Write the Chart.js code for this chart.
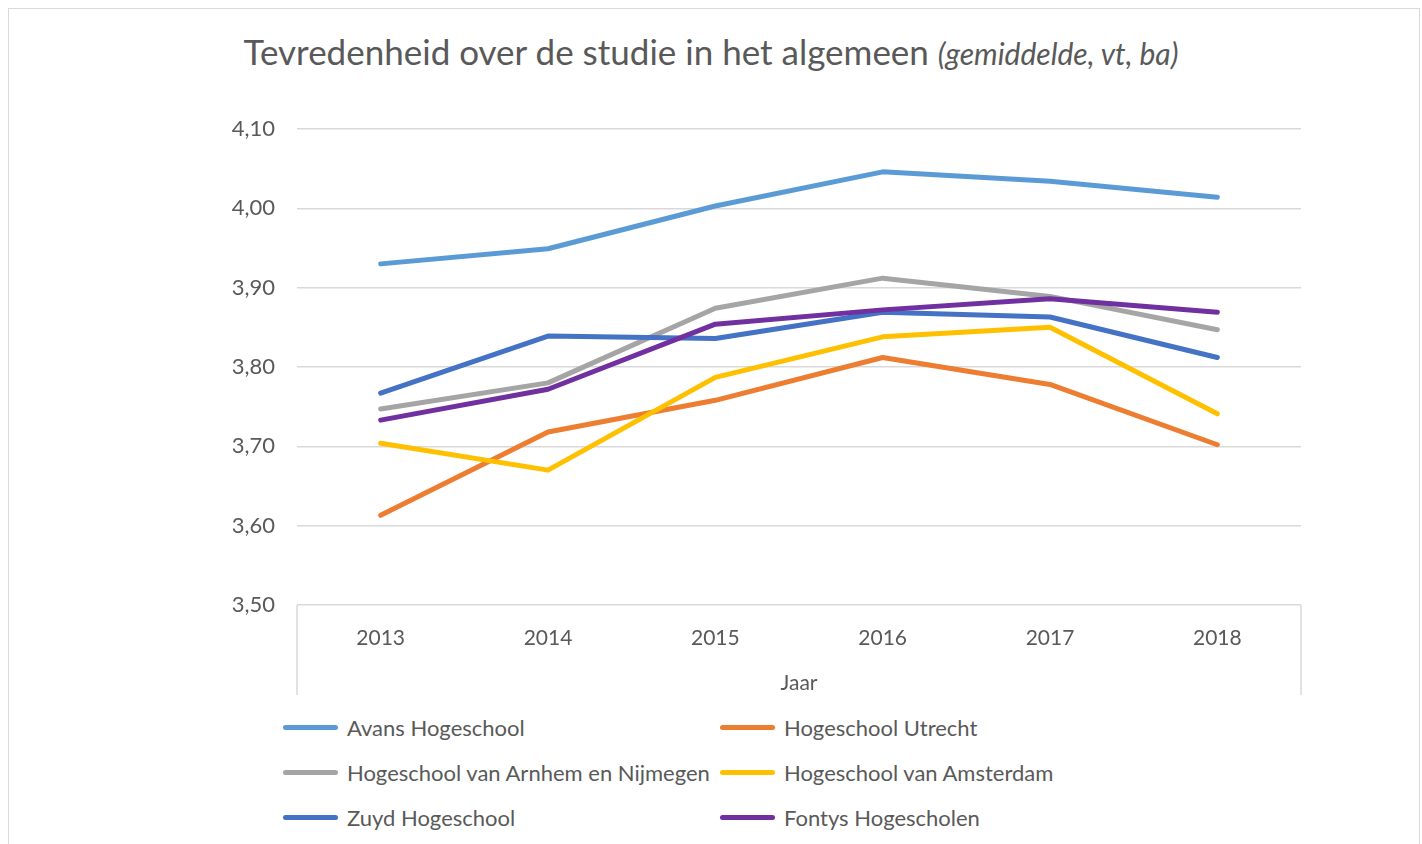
<!DOCTYPE html>
<html lang="nl">
<head>
<meta charset="UTF-8">
<title>Tevredenheid over de studie</title>
<script src="https://cdn.jsdelivr.net/npm/chart.js@4.4.1/dist/chart.umd.min.js"></script>
<style>
  body { margin: 0; background: #fff; font-family: Lato, "Open Sans", sans-serif; color: #595959; }
  #frame { position: absolute; left: 8px; top: 8px; width: 1410px; height: 860px; border: 1.5px solid #d9d9d9; }
  #wrap { position: absolute; left: 0; top: 0; width: 1422px; height: 700px; }
  #titel { position: absolute; left: 0; width: 1422px; top: 30px; text-align: center; font-size: 35px; color: #595959; white-space: nowrap; }
  #titel i { font-size: 30px; }
  #legenda { position: absolute; left: 283px; top: 711px; display: grid; grid-template-columns: 437px 437px; row-gap: 13px; font-size: 22px; }
  .item { display: flex; align-items: center; height: 32px; }
  .lijn { width: 55px; height: 5px; border-radius: 3px; margin-right: 9px; }
</style>
</head>
<body>
<div id="frame"></div>
<div id="titel">Tevredenheid over de studie in het algemeen <i>(gemiddelde, vt, ba)</i></div>
<div id="wrap"><canvas id="grafiek"></canvas></div>
<div id="legenda"></div>
<script>
  const jaren = ["2013", "2014", "2015", "2016", "2017", "2018"];

  const avans   = [3.930, 3.949, 4.003, 4.046, 4.034, 4.014];
  const utrecht = [3.613, 3.718, 3.758, 3.812, 3.778, 3.702];
  const han     = [3.747, 3.780, 3.874, 3.912, 3.889, 3.847];
  const hva     = [3.704, 3.670, 3.787, 3.838, 3.850, 3.741];
  const zuyd    = [3.767, 3.839, 3.836, 3.869, 3.863, 3.812];
  const fontys  = [3.733, 3.772, 3.854, 3.872, 3.886, 3.869];

  const namen = ["Avans Hogeschool", "Hogeschool Utrecht", "Hogeschool van Arnhem en Nijmegen",
                 "Hogeschool van Amsterdam", "Zuyd Hogeschool", "Fontys Hogescholen"];
  const kleuren = ["#5b9bd5", "#ed7d31", "#a5a5a5", "#ffc000", "#4472c4", "#7030a0"];
  const reeksen = [avans, utrecht, han, hva, zuyd, fontys];

  // lijntjes links en rechts onder de x-as, zoals in Excel
  const asRand = {
    id: 'asRand',
    afterDraw(chart) {
      const ctx = chart.ctx, a = chart.chartArea;
      ctx.save();
      ctx.strokeStyle = '#d9d9d9';
      ctx.lineWidth = 1.5;
      ctx.beginPath();
      ctx.moveTo(a.left, a.bottom); ctx.lineTo(a.left, a.bottom + 90);
      ctx.moveTo(a.right, a.bottom); ctx.lineTo(a.right, a.bottom + 90);
      ctx.stroke();
      ctx.restore();
    }
  };

  const ctx = document.getElementById('grafiek').getContext('2d');
  const grafiek = new Chart(ctx, {
    type: 'line',
    data: {
      labels: jaren,
      datasets: reeksen.map((r, i) => ({
        label: namen[i],
        data: r,
        borderColor: kleuren[i],
        backgroundColor: kleuren[i],
        borderWidth: 5,
        borderCapStyle: 'round',
        borderJoinStyle: 'round',
        pointRadius: 0,
        tension: 0,
        order: reeksen.length - i
      }))
    },
    options: {
      responsive: true,
      maintainAspectRatio: false,
      animation: false,
      layout: { padding: { top: 129, right: 121, left: 0, bottom: 0 } },
      plugins: { legend: { display: false }, tooltip: { enabled: false } },
      scales: {
        x: {
          offset: true,
          grid: { display: false },
          border: { display: false },
          ticks: { color: '#595959', font: { family: 'Lato', size: 21 }, padding: 13 },
          title: { display: true, text: 'Jaar', color: '#595959', font: { family: 'Lato', size: 21 }, padding: { top: 0, bottom: 4 } },
          afterFit(s) { s.height = 95; }
        },
        y: {
          min: 3.5, max: 4.1,
          grid: { color: '#d9d9d9', lineWidth: 1.5, drawTicks: false },
          border: { display: false },
          ticks: {
            stepSize: 0.1,
            color: '#595959',
            font: { family: 'Lato', size: 22 },
            padding: 22,
            callback: v => v.toFixed(2).replace('.', ',')
          },
          afterFit(s) { s.width = 297; }
        }
      }
    },
    plugins: [asRand]
  });

  const leg = document.getElementById('legenda');
  namen.forEach((n, i) => {
    const d = document.createElement('div');
    d.className = 'item';
    d.innerHTML = '<span class="lijn" style="background:' + kleuren[i] + '"></span><span>' + n + '</span>';
    leg.appendChild(d);
  });
</script>
</body>
</html>
